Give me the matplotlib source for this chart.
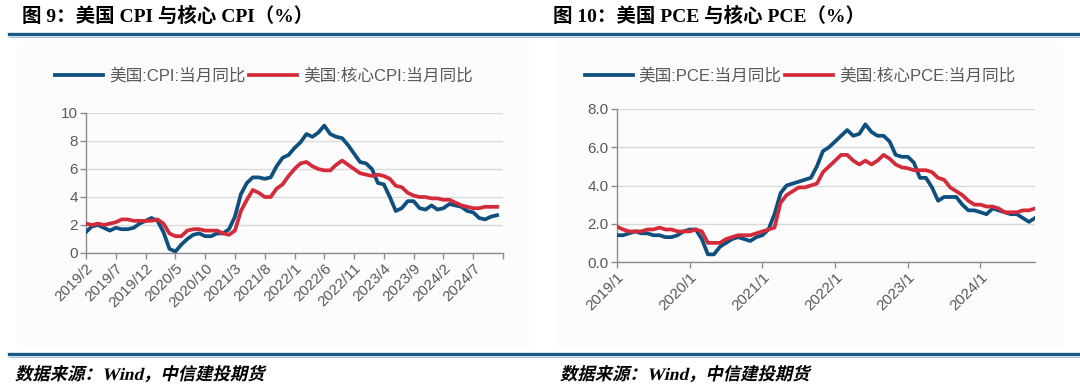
import matplotlib.pyplot as plt
import matplotlib.patheffects as pe
from matplotlib.font_manager import FontProperties
from matplotlib.lines import Line2D
from matplotlib.patches import Rectangle
from matplotlib.transforms import Affine2D
import numpy as np

# 美国 CPI 当月同比, 2019/2 - 2024/11
cpi = [1.5, 1.9, 2.0, 1.8, 1.6, 1.8, 1.7, 1.7, 1.8, 2.1, 2.3,
       2.5, 2.3, 1.5, 0.3, 0.1, 0.6, 1.0, 1.3, 1.4, 1.2, 1.2, 1.4,
       1.4, 1.7, 2.6, 4.2, 5.0, 5.4, 5.4, 5.3, 5.4, 6.2, 6.8, 7.0,
       7.5, 7.9, 8.5, 8.3, 8.6, 9.1, 8.5, 8.3, 8.2, 7.7, 7.1, 6.5,
       6.4, 6.0, 5.0, 4.9, 4.0, 3.0, 3.2, 3.7, 3.7, 3.2, 3.1, 3.4,
       3.1, 3.2, 3.5, 3.4, 3.3, 3.0, 2.9, 2.5, 2.4, 2.6, 2.7]
core_cpi = [2.1, 2.0, 2.1, 2.0, 2.1, 2.2, 2.4, 2.4, 2.3, 2.3, 2.3,
            2.3, 2.4, 2.1, 1.4, 1.2, 1.2, 1.6, 1.7, 1.7, 1.6, 1.6, 1.6,
            1.4, 1.3, 1.6, 3.0, 3.8, 4.5, 4.3, 4.0, 4.0, 4.6, 4.9, 5.5,
            6.0, 6.4, 6.5, 6.2, 6.0, 5.9, 5.9, 6.3, 6.6, 6.3, 6.0, 5.7,
            5.6, 5.5, 5.6, 5.5, 5.3, 4.8, 4.7, 4.3, 4.1, 4.0, 4.0, 3.9,
            3.9, 3.8, 3.8, 3.6, 3.4, 3.3, 3.2, 3.2, 3.3, 3.3, 3.3]
cpi_ticks = ['2019/2', '2019/7', '2019/12', '2020/5', '2020/10', '2021/3', '2021/8',
             '2022/1', '2022/6', '2022/11', '2023/4', '2023/9', '2024/2', '2024/7']

# 美国 PCE 当月同比, 2019/1 - 2024/10
pce = [1.4, 1.4, 1.5, 1.6, 1.5, 1.5, 1.4, 1.4, 1.3, 1.3, 1.4, 1.6,
       1.7, 1.7, 1.2, 0.4, 0.4, 0.8, 1.0, 1.2, 1.3, 1.2, 1.1, 1.3,
       1.4, 1.7, 2.5, 3.6, 4.0, 4.1, 4.2, 4.3, 4.4, 5.0, 5.8, 6.0,
       6.3, 6.6, 6.9, 6.6, 6.7, 7.2, 6.8, 6.6, 6.6, 6.3, 5.6, 5.5,
       5.5, 5.2, 4.4, 4.4, 3.9, 3.2, 3.4, 3.4, 3.4, 3.0, 2.7, 2.7,
       2.6, 2.5, 2.8, 2.7, 2.6, 2.5, 2.5, 2.3, 2.1, 2.3]
core_pce = [1.85, 1.7, 1.6, 1.6, 1.6, 1.7, 1.7, 1.8, 1.7, 1.7, 1.6, 1.6,
            1.6, 1.7, 1.6, 1.0, 1.0, 1.0, 1.2, 1.3, 1.4, 1.4, 1.4, 1.5,
            1.6, 1.7, 1.8, 3.1, 3.5, 3.7, 3.9, 3.9, 4.0, 4.1, 4.7, 5.0,
            5.3, 5.6, 5.6, 5.3, 5.1, 5.3, 5.1, 5.3, 5.6, 5.4, 5.1, 4.95,
            4.9, 4.8, 4.8, 4.8, 4.7, 4.4, 4.3, 3.9, 3.7, 3.5, 3.2, 3.0,
            3.0, 2.9, 2.9, 2.8, 2.6, 2.6, 2.6, 2.7, 2.7, 2.8]
pce_ticks = ['2019/1', '2020/1', '2021/1', '2022/1', '2023/1', '2024/1']

BLUE = '#0E4F7E'
RED = '#D42B3B'
GREY = '#595959'
W, H = 1080, 392

plt.rcParams['font.family'] = ['Liberation Sans', 'Noto Sans CJK SC']


class Oblique(pe.AbstractPathEffect):
    # slant glyph outlines, CJK fonts here have no italic face
    def __init__(self, deg=13):
        super().__init__()
        self._skew = Affine2D().skew_deg(deg, 0)

    def draw_path(self, renderer, gc, tpath, affine, rgbFace=None):
        renderer.draw_path(gc, tpath, self._skew + affine, rgbFace)


def fx(px):
    return px / W


def fy(py):
    return 1 - py / H


fig = plt.figure(figsize=(W / 100, H / 100), dpi=100)

# faint panels
for x0, x1 in [(18, 528), (556, 1062)]:
    fig.add_artist(Rectangle((fx(x0), fy(348)), fx(x1 - x0), (348 - 42) / H,
                             transform=fig.transFigure, color='#FCFCFC', zorder=0))

# rules
for y, lw, c in [(34, 2.4, '#1B5987'), (36.5, 0.8, '#A9C2D6'),
                 (354, 2.4, '#1B5987'), (356.5, 0.8, '#A9C2D6')]:
    fig.add_artist(Line2D([fx(9), 1], [fy(y), fy(y)], color=c, lw=lw,
                          transform=fig.transFigure))

title_font = dict(family=['Liberation Serif', 'Noto Sans CJK SC'], weight='bold',
                  size=14, va='center', color='black')
fig.text(fx(22), fy(16), '图 9：美国 CPI 与核心 CPI（%）', **title_font)
fig.text(fx(553), fy(16), '图 10：美国 PCE 与核心 PCE（%）', **title_font)

for x in [15, 560]:
    fig.text(fx(x), fy(375), '数据来源：Wind，中信建投期货',
             family=['Liberation Serif', 'Noto Sans CJK SC'], weight='bold',
             size=12.5, va='center', color='black', path_effects=[Oblique()])


def draw(box, a, b, labels, step, xmax, ymax, fmt):
    ax = fig.add_axes(box)
    x = np.arange(len(a))
    ax.plot(x, a, color=BLUE, lw=2.7, zorder=3)
    ax.plot(x, b, color=RED, lw=2.7, zorder=3)
    ax.set_xlim(0, xmax)
    ax.set_ylim(0, ymax)
    ax.set_yticks(np.arange(0, ymax + 0.1, 2))
    ax.set_yticklabels([fmt % v for v in np.arange(0, ymax + 0.1, 2)])
    ticks = np.arange(0, xmax + 0.5, step)
    ax.set_xticks(ticks)
    ax.set_xticklabels((labels + [''] * len(ticks))[:len(ticks)], rotation=45,
                       ha='right', rotation_mode='anchor')
    ax.grid(axis='y', color='#D9D9D9', lw=1)
    ax.set_axisbelow(True)
    ax.patch.set_alpha(0)
    for s in ['top', 'right']:
        ax.spines[s].set_visible(False)
    for s in ['left', 'bottom']:
        ax.spines[s].set_color('#8C8C8C')
        ax.spines[s].set_linewidth(1)
    ax.tick_params(axis='both', color='#8C8C8C', labelcolor=GREY, labelsize=11,
                   length=4, width=1, pad=2)
    return ax


draw([fx(86), fy(253), fx(503 - 86), (253 - 113) / H], cpi, core_cpi,
     cpi_ticks, 5, 70, 10, '%d')
draw([fx(617), fy(262), fx(1035 - 617), (262 - 109) / H], pce, core_pce,
     pce_ticks, 12, 69, 8, '%.1f')

leg_font = FontProperties(family=['Liberation Sans', 'Noto Sans CJK SC'], size=12)
for cx, names in [(264, ['美国:CPI:当月同比', '美国:核心CPI:当月同比']),
                  (800, ['美国:PCE:当月同比', '美国:核心PCE:当月同比'])]:
    handles = [Line2D([], [], color=BLUE, lw=2.7), Line2D([], [], color=RED, lw=2.7)]
    leg = fig.legend(handles, names, loc='center', bbox_to_anchor=(fx(cx), fy(76)),
                     ncol=2, frameon=False, prop=leg_font, handlelength=2.9,
                     handletextpad=0.35, columnspacing=0.2)
    for t in leg.get_texts():
        t.set_color(GREY)

fig.savefig('out.png', dpi=100)
